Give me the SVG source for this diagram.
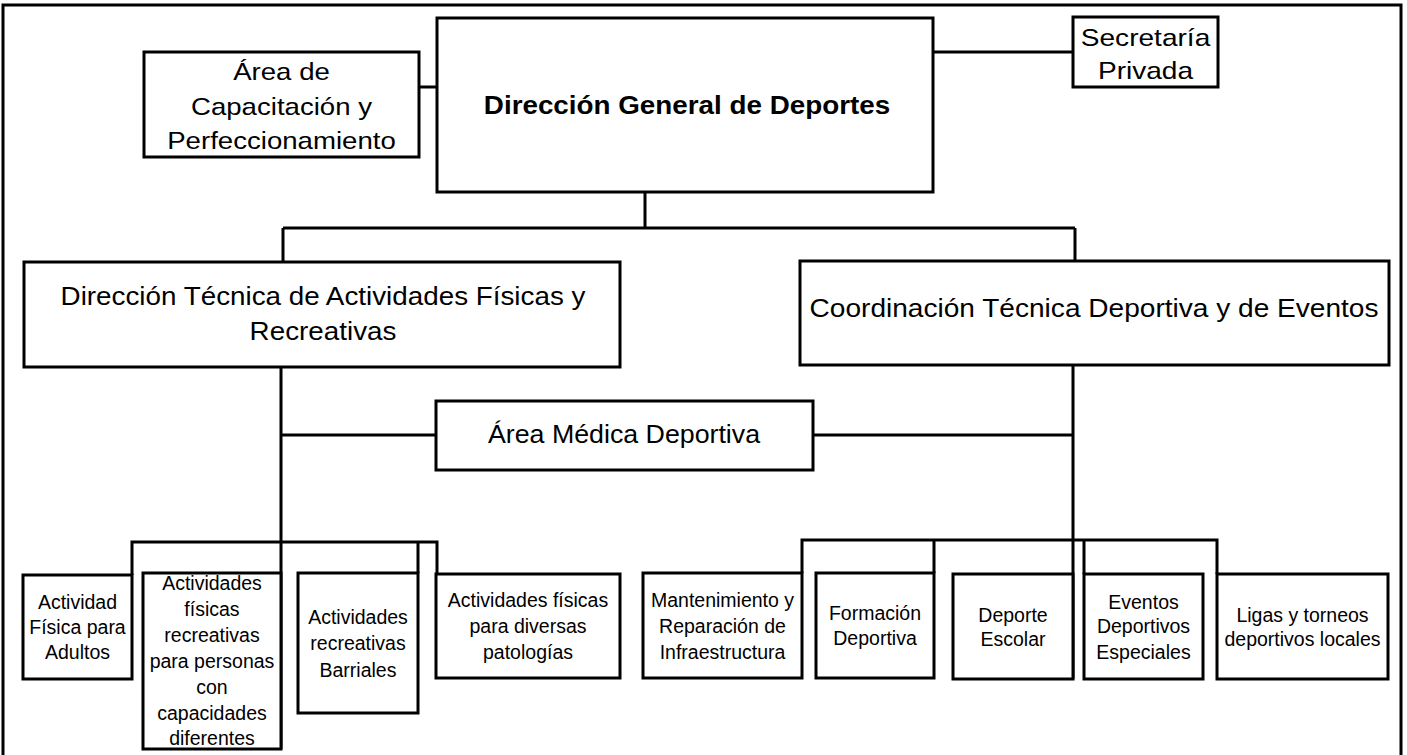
<svg xmlns="http://www.w3.org/2000/svg" width="1407" height="755" viewBox="0 0 1407 755">
<style>
.box{fill:#fff;stroke:#000;stroke-width:3}
.ln{fill:none;stroke:#000;stroke-width:3}
text{font-family:"Liberation Sans",Arial,sans-serif;fill:#000;text-anchor:middle}
.t26{font-size:26px}
.t24{font-size:24px}
.t25{font-size:25.5px}
.sm{font-size:19.5px}
.b{font-weight:bold}
</style>
<rect x="0" y="0" width="1407" height="755" fill="#fff"/>
<rect x="3" y="5" width="1398" height="800" fill="none" stroke="#000" stroke-width="3"/>
<g id="connectors">
<path class="ln" d="M419,87H437"/>
<path class="ln" d="M933,52H1073"/>
<path class="ln" d="M645,192V228M283,228H1075M283,228V262M1075,228V262"/>
<path class="ln" d="M281,367V749"/>
<path class="ln" d="M1073,365V679"/>
<path class="ln" d="M281,435H437M813,435H1073"/>
<path class="ln" d="M132,575V542H437V574M418,542V573"/>
<path class="ln" d="M802,573V540H1217V574M934,540V573M1084,540V574"/>
</g>
<g id="n-capacitacion">
<rect class="box" x="144" y="52" width="275" height="105"/>
<text class="t24" transform="translate(281.5,0) scale(1.15,1)"><tspan x="0" y="80.5">Área de</tspan><tspan x="0" y="115">Capacitación y</tspan><tspan x="0" y="149.5">Perfeccionamiento</tspan></text>
</g>
<g id="n-direccion-general">
<rect class="box" x="437" y="18" width="496" height="174"/>
<text class="t26 b" transform="translate(687,114) scale(1.07,1)" x="0" y="0">Dirección General de Deportes</text>
</g>
<g id="n-secretaria">
<rect class="box" x="1073" y="17" width="145" height="70"/>
<text class="t24" transform="translate(1145.5,0) scale(1.17,1)"><tspan x="0" y="46">Secretaría</tspan><tspan x="0" y="79">Privada</tspan></text>
</g>
<g id="n-direccion-tecnica">
<rect class="box" x="24" y="262" width="596" height="105"/>
<text class="t26" transform="translate(323,0) scale(1.07,1)"><tspan x="0" y="305">Dirección Técnica de Actividades Físicas y</tspan><tspan x="0" y="340">Recreativas</tspan></text>
</g>
<g id="n-coordinacion">
<rect class="box" x="800" y="261" width="589" height="104"/>
<text class="t26" transform="translate(1094,317) scale(1.08,1)" x="0" y="0">Coordinación Técnica Deportiva y de Eventos</text>
</g>
<g id="n-medica">
<rect class="box" x="436" y="401" width="377" height="69"/>
<text class="t25" transform="translate(624,443) scale(1.05,1)" x="0" y="0">Área Médica Deportiva</text>
</g>
<g id="n-adultos">
<rect class="box" x="23" y="575" width="109" height="104"/>
<text class="sm"><tspan x="77.5" y="609">Actividad</tspan><tspan x="77.5" y="634">Física para</tspan><tspan x="77.5" y="659">Adultos</tspan></text>
</g>
<g id="n-capacidades">
<rect class="box" x="143" y="573" width="138" height="176"/>
<text class="sm"><tspan x="212" y="590">Actividades</tspan><tspan x="212" y="616">físicas</tspan><tspan x="212" y="642">recreativas</tspan><tspan x="212" y="668">para personas</tspan><tspan x="212" y="694">con</tspan><tspan x="212" y="720">capacidades</tspan><tspan x="212" y="745">diferentes</tspan></text>
</g>
<g id="n-barriales">
<rect class="box" x="298" y="573" width="120" height="140"/>
<text class="sm"><tspan x="358" y="624">Actividades</tspan><tspan x="358" y="650">recreativas</tspan><tspan x="358" y="677">Barriales</tspan></text>
</g>
<g id="n-patologias">
<rect class="box" x="436" y="574" width="184" height="104"/>
<text class="sm"><tspan x="528" y="607">Actividades físicas</tspan><tspan x="528" y="633">para diversas</tspan><tspan x="528" y="659">patologías</tspan></text>
</g>
<g id="n-mantenimiento">
<rect class="box" x="643" y="573" width="159" height="105"/>
<text class="sm"><tspan x="722.5" y="607">Mantenimiento y</tspan><tspan x="722.5" y="633">Reparación de</tspan><tspan x="722.5" y="659">Infraestructura</tspan></text>
</g>
<g id="n-formacion">
<rect class="box" x="816" y="573" width="118" height="105"/>
<text class="sm"><tspan x="875" y="620">Formación</tspan><tspan x="875" y="645">Deportiva</tspan></text>
</g>
<g id="n-escolar">
<rect class="box" x="953" y="574" width="120" height="105"/>
<text class="sm"><tspan x="1013" y="622">Deporte</tspan><tspan x="1013" y="646">Escolar</tspan></text>
</g>
<g id="n-eventos">
<rect class="box" x="1084" y="574" width="119" height="105"/>
<text class="sm"><tspan x="1143.5" y="609">Eventos</tspan><tspan x="1143.5" y="633">Deportivos</tspan><tspan x="1143.5" y="659">Especiales</tspan></text>
</g>
<g id="n-ligas">
<rect class="box" x="1217" y="574" width="171" height="105"/>
<text class="sm"><tspan x="1302.5" y="622">Ligas y torneos</tspan><tspan x="1302.5" y="646">deportivos locales</tspan></text>
</g>
</svg>
